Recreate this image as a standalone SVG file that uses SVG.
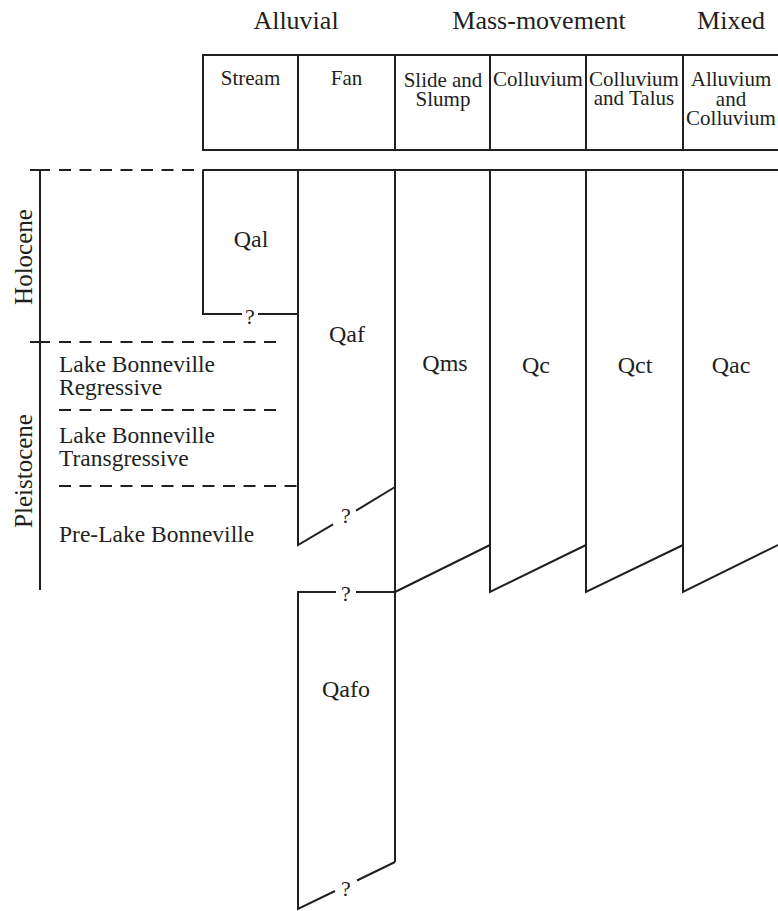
<svg xmlns="http://www.w3.org/2000/svg" width="778" height="911" viewBox="0 0 778 911">
<style>
text{font-family:"Liberation Serif","Times New Roman",serif;fill:#231f20}
.ln{stroke:#231f20;stroke-width:2;fill:none}
.ds{stroke:#231f20;stroke-width:2;fill:none;stroke-dasharray:12 8.5}
.top{font-size:26px;text-anchor:middle}
.hd{font-size:21px;text-anchor:middle}
.q{font-size:24px;text-anchor:middle}
.qm{font-size:22px;text-anchor:middle}
.lb{font-size:23.5px}
.ep{font-size:25px;text-anchor:middle}
</style>
<rect width="778" height="911" fill="#fff"/>
<g id="category-labels">
<text class="top" x="296" y="29">Alluvial</text>
<text class="top" x="539" y="29">Mass-movement</text>
<text class="top" x="731" y="29">Mixed</text>
</g>
<g id="header">
<path class="ln" d="M779,55 H203 V150 H779 M298,55 V150 M395,55 V150 M490,55 V150 M586,55 V150 M683,55 V150"/>
<text class="hd" x="250.5" y="85">Stream</text>
<text class="hd" x="346.5" y="85">Fan</text>
<text class="hd" x="443" y="87">Slide and</text>
<text class="hd" x="443" y="106">Slump</text>
<text class="hd" x="538" y="86">Colluvium</text>
<text class="hd" x="634" y="86">Colluvium</text>
<text class="hd" x="634" y="105">and Talus</text>
<text class="hd" x="731" y="86">Alluvium</text>
<text class="hd" x="731" y="106">and</text>
<text class="hd" x="731" y="125">Colluvium</text>
</g>
<g id="time-scale">
<path class="ln" d="M40,170 V590 M30,170 H50 M30,342 H50"/>
<path class="ds" d="M59,170 H203 M59,342 H280 M59,410 H280 M59,486 H298"/>
<text class="ep" transform="translate(32,257) rotate(-90)">Holocene</text>
<text class="ep" transform="translate(32,471) rotate(-90)">Pleistocene</text>
<text class="lb" x="59" y="372">Lake Bonneville</text>
<text class="lb" x="59" y="395">Regressive</text>
<text class="lb" x="59" y="443">Lake Bonneville</text>
<text class="lb" x="59" y="466">Transgressive</text>
<text class="lb" x="59" y="542">Pre-Lake Bonneville</text>
</g>
<g id="connectors">
<path class="ln" d="M203,170 H779"/>
</g>
<g id="Qal">
<path class="ln" d="M242,314 H203 V170 M258,314 H298"/>
<text class="q" x="251" y="247">Qal</text>
<text class="qm" x="250" y="324">?</text>
</g>
<g id="Qaf">
<path class="ln" d="M298,170 V545 L333,524.3 M356,510.7 L395,487"/>
<text class="q" x="347" y="342">Qaf</text>
<text class="qm" x="346" y="523">?</text>
</g>
<g id="Qafo">
<path class="ln" d="M336,592 H298 V909 L335,891 M357,880.5 L395,862 M356,592 H395"/>
<text class="q" x="346" y="697">Qafo</text>
<text class="qm" x="346" y="601">?</text>
<text class="qm" x="346" y="896">?</text>
</g>
<g id="Qms">
<path class="ln" d="M395,170 V862 M395,592 L490,545"/>
<text class="q" x="445" y="371">Qms</text>
</g>
<g id="Qc">
<path class="ln" d="M490,170 V592 L586,545"/>
<text class="q" x="536" y="373">Qc</text>
</g>
<g id="Qct">
<path class="ln" d="M586,170 V592 L683,545"/>
<text class="q" x="635" y="373">Qct</text>
</g>
<g id="Qac">
<path class="ln" d="M683,170 V592 L779,544.5"/>
<text class="q" x="731" y="373">Qac</text>
</g>
</svg>
